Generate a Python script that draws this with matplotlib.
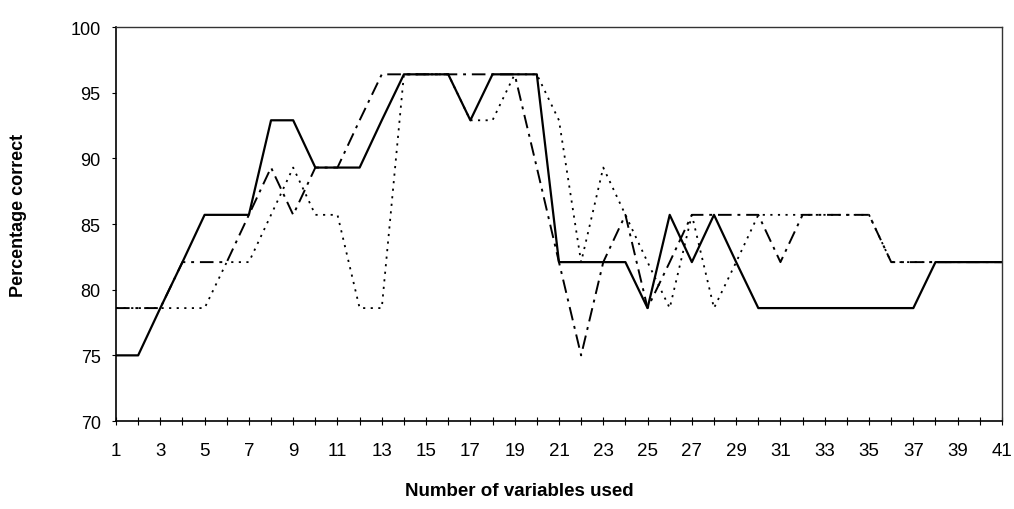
import numpy as np
import matplotlib
matplotlib.use("Agg")
import matplotlib.pyplot as plt

plt.rcParams['font.family'] = ['Liberation Sans', 'DejaVu Sans']

# number of variables used
n_vars = list(range(1, 42))

# percentage correct for the three runs (steps of 100/28)
solid = [75.0, 75.0, 78.6, 82.1, 85.7, 85.7, 85.7, 92.9, 92.9, 89.3,
         89.3, 89.3, 92.9, 96.4, 96.4, 96.4, 92.9, 96.4, 96.4, 96.4,
         82.1, 82.1, 82.1, 82.1, 78.6, 85.7, 82.1, 85.7, 82.1, 78.6,
         78.6, 78.6, 78.6, 78.6, 78.6, 78.6, 78.6, 82.1, 82.1, 82.1, 82.1]

dashdot = [78.6, 78.6, 78.6, 82.1, 82.1, 82.1, 85.7, 89.3, 85.7, 89.3,
           89.3, 92.9, 96.4, 96.4, 96.4, 96.4, 96.4, 96.4, 96.4, 89.3,
           82.1, 75.0, 82.1, 85.7, 78.6, 82.1, 85.7, 85.7, 85.7, 85.7,
           82.1, 85.7, 85.7, 85.7, 85.7, 82.1, 82.1, 82.1, 82.1, 82.1, 82.1]

dotted = [78.6, 78.6, 78.6, 78.6, 78.6, 82.1, 82.1, 85.7, 89.3, 85.7,
          85.7, 78.6, 78.6, 96.4, 96.4, 96.4, 92.9, 92.9, 96.4, 96.4,
          92.9, 82.1, 89.3, 85.7, 82.1, 78.6, 85.7, 78.6, 82.1, 85.7,
          85.7, 85.7, 85.7, 85.7, 85.7, 82.1, 82.1, 82.1, 82.1, 82.1, 82.1]

y_ticks = [70, 75, 80, 85, 90, 95, 100]

fig = plt.figure(figsize=(10.14, 5.10), dpi=100)
ax = fig.add_axes([0.1144, 0.1725, 0.8737, 0.7725])

ax.plot(n_vars, dotted, color='black', lw=1.3, linestyle=(0, (1.2, 3.0)))
ax.plot(n_vars, dashdot, color='black', lw=1.4, linestyle=(0, (7, 3, 1.5, 3)))
ax.plot(n_vars, solid, color='black', lw=1.6)

ax.set_xlim(1, 41)
ax.set_ylim(70, 100)

ax.set_yticks(y_ticks)
ax.set_yticklabels([str(v) for v in y_ticks], fontsize=13)
ax.set_xticks(n_vars)
ax.set_xticklabels([str(v) if v % 2 == 1 else '' for v in n_vars], fontsize=13.5)

ax.tick_params(axis='x', direction='inout', length=6, width=0.8, pad=12)
ax.tick_params(axis='y', direction='out', length=3, width=0.8, pad=8)

for side in ['left', 'bottom']:
    ax.spines[side].set_linewidth(1.2)
    ax.spines[side].set_color('black')
for side in ['top', 'right']:
    ax.spines[side].set_linewidth(1.0)
    ax.spines[side].set_color('#333333')

ax.set_xlabel('Number of variables used', fontsize=13.5, fontweight='bold')
ax.xaxis.set_label_coords(0.455, -0.155)
ax.set_ylabel('Percentage correct', fontsize=13, fontweight='bold')
ax.yaxis.set_label_coords(-0.100, 0.525)

fig.savefig('out.png', dpi=100, facecolor='white')
